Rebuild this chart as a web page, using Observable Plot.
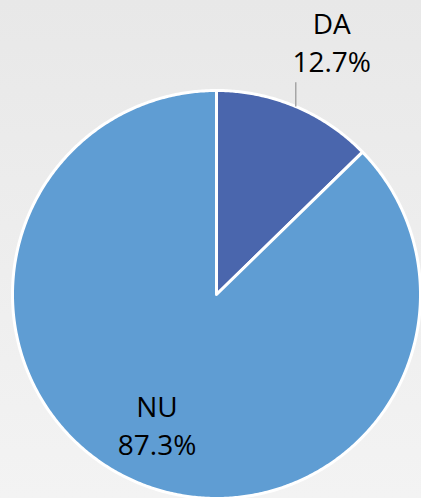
<!DOCTYPE html>
<html>
<head>
<meta charset="utf-8">
<script src="https://cdn.jsdelivr.net/npm/d3@7"></script>
<script src="https://cdn.jsdelivr.net/npm/@observablehq/plot@0.6"></script>
<style>
  html, body { margin: 0; padding: 0; background: #eeeeee; }
</style>
</head>
<body>
<div id="chart"></div>
<script>
const categories = ["DA", "NU"];
const shares = [12.7, 87.3];
const shareLabels = ["12.7%", "87.3%"];
const colors = ["#4a66ad", "#5f9dd3"];

const rows = categories.map((c, i) => ({cat: c, v: shares[i], label: shareLabels[i]}));
const arcs = d3.pie().sort(null).value(d => d.v)(rows);

// slice polygons in unit-circle space (angle 0 = 12 o'clock, clockwise)
const pts = [];
for (const a of arcs) {
  pts.push({cat: a.data.cat, x: 0, y: 0});
  const n = Math.max(4, Math.ceil((a.endAngle - a.startAngle) / (Math.PI / 360)));
  for (let k = 0; k <= n; k++) {
    const t = a.startAngle + (a.endAngle - a.startAngle) * k / n;
    pts.push({cat: a.data.cat, x: Math.sin(t), y: Math.cos(t)});
  }
}

// labels: DA outside with leader, NU inside
const labelRows = arcs.map(a => {
  const m = (a.startAngle + a.endAngle) / 2;
  const outside = a.data.cat === "DA";
  const r = outside ? 1.34 : 0.70;
  return {cat: a.data.cat, text: a.data.cat + "\n" + a.data.label,
          x: Math.sin(m) * r, y: Math.cos(m) * r, outside, m};
});
const leaders = labelRows.filter(d => d.outside).map(d => ({
  x1: Math.sin(d.m), y1: Math.cos(d.m), x2: Math.sin(d.m), y2: 1.04
}));

const chart = Plot.plot({
  width: 421,
  height: 498,
  marginLeft: 12,
  marginRight: 1,
  marginTop: 90,
  marginBottom: 0,
  x: {domain: [-1, 1], axis: null},
  y: {domain: [-1, 1], axis: null},
  color: {domain: categories, range: colors},
  style: {
    fontFamily: "'Open Sans', sans-serif",
    background: "linear-gradient(to bottom, #e8e8e8, #f3f3f3)",
    overflow: "visible"
  },
  marks: [
    Plot.line(pts, {x: "x", y: "y", z: "cat", fill: "cat", stroke: "white",
      strokeWidth: 3, strokeLinejoin: "round", curve: "linear-closed"}),
    Plot.link(leaders, {x1: "x1", y1: "y1", x2: "x2", y2: "y2", stroke: "#a6a6a6", strokeWidth: 1.5}),
    Plot.text(labelRows.filter(d => d.outside), {x: "x", y: "y", text: "text", fontSize: 28, lineHeight: 1.36,
      fill: "black", dx: 9, dy: -2, textAnchor: "middle"}),
    Plot.text(labelRows.filter(d => !d.outside), {x: "x", y: "y", text: "text", fontSize: 28, lineHeight: 1.36,
      fill: "black", dx: -4, dy: -2, textAnchor: "middle"})
  ]
});
document.getElementById("chart").appendChild(chart);
</script>
</body>
</html>
